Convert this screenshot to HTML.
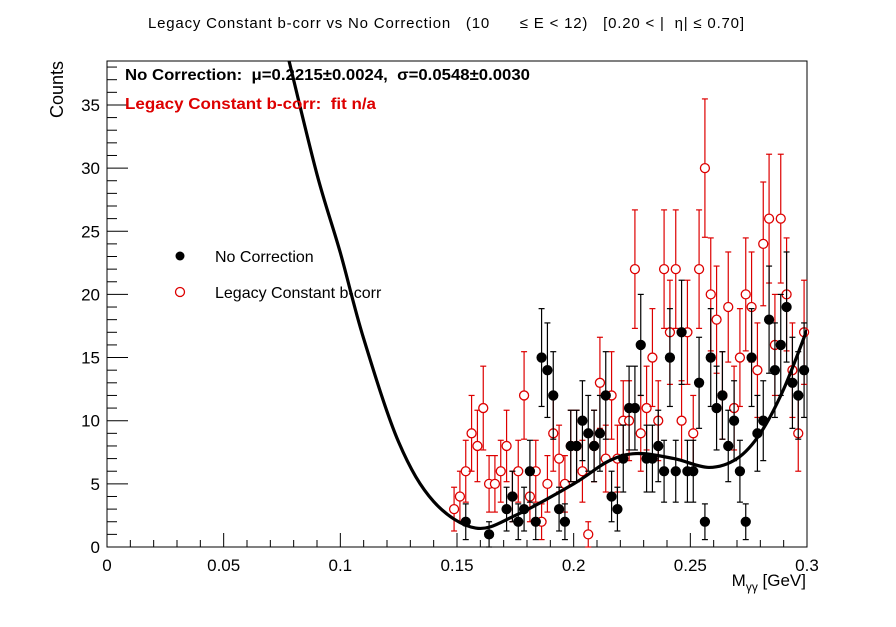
<!DOCTYPE html>
<html><head><meta charset="utf-8"><style>
body{margin:0;background:#fff;}
svg text{font-family:"Liberation Sans",sans-serif;white-space:pre;}
</style></head><body>
<svg id="c" width="896" height="622" xmlns="http://www.w3.org/2000/svg" xml:space="preserve">
<rect width="896" height="622" fill="#fff"/>
<text x="148" y="28" font-size="15" textLength="596" lengthAdjust="spacing">Legacy Constant b-corr vs No Correction   (10      ≤ E &lt; 12)   [0.20 &lt; |  η| ≤ 0.70]</text>
<rect x="107" y="61" width="700" height="486" fill="none" stroke="#000" stroke-width="1"/>
<g id="axes"></g>
<g id="marks"></g>
<text x="125" y="80" font-size="16" font-weight="bold" textLength="405" lengthAdjust="spacingAndGlyphs">No Correction:  μ=0.2215±0.0024,  σ=0.0548±0.0030</text>
<text x="125" y="109" font-size="16" font-weight="bold" fill="#d00" textLength="251" lengthAdjust="spacingAndGlyphs">Legacy Constant b-corr:  fit n/a</text>
<g>
<circle cx="180" cy="256" r="4.5" fill="#000"/>
<text x="215" y="262" font-size="16">No Correction</text>
<circle cx="180" cy="292" r="4.5" fill="#fff" stroke="#d00" stroke-width="1.3"/>
<text x="215" y="298" font-size="16">Legacy Constant b-corr</text>
</g>
<text x="0" y="0" font-size="18" text-anchor="end" transform="translate(63,61) rotate(-90)">Counts</text>
<text x="806" y="586" font-size="17" text-anchor="end">M<tspan font-size="12" dy="5">γγ</tspan><tspan dy="-5"> [GeV]</tspan></text>
</svg>
<script>
const binStart = 0.14875, binWidth = 0.0025;
const noCorr = [0,0,2,0,0,0,1,0,0,3,4,2,3,6,2,15,14,12,3,2,8,8,10,9,8,9,12,4,3,7,11,11,16,7,7,8,6,15,6,17,6,6,13,2,15,11,12,8,10,6,2,15,9,10,18,14,16,19,13,12,14];
const legacy = [3,4,6,9,8,11,5,5,6,8,4,6,12,4,6,2,5,9,7,5,8,8,6,1,8,13,7,12,7,10,10,22,9,11,15,10,22,17,22,10,17,9,22,30,20,18,12,19,11,15,20,19,14,24,26,16,26,20,14,9,17];
const fitX = [0.078,0.09,0.1,0.11,0.125,0.14,0.158,0.175,0.2,0.215,0.227,0.243,0.258,0.27,0.28,0.29,0.3];
const fitY = [38.5,29.5,23.3,16.5,8.3,3.6,1.5,2.5,5,6.8,7.4,7,6.3,7,9,12.5,17.2];
const xTicks = [0,0.05,0.1,0.15,0.2,0.25,0.3];
const xTickLabels = ["0","0.05","0.1","0.15","0.2","0.25","0.3"];
const yTicks = [0,5,10,15,20,25,30,35];

const X0=107,X1=807,Y0=547,Y1=61,XMAX=0.3,YMAX=38.48;
const sx=v=>X0+(v/XMAX)*(X1-X0);
const sy=v=>Y0-(v/YMAX)*(Y0-Y1);
const NS="http://www.w3.org/2000/svg";
function mk(t,a,p){const e=document.createElementNS(NS,t);for(const k in a)e.setAttribute(k,a[k]);p.appendChild(e);return e;}
const axes=document.getElementById('axes'), marks=document.getElementById('marks');
for(let k=0;k<=30;k++){const v=k*0.01;const x=sx(v);const maj=k%5===0;
 const t=mk('line',{x1:x,x2:x,y1:Y0,y2:Y0-(maj?14:7),stroke:'#000'},axes);
 
 }
xTicks.forEach((v,i)=>{const t=mk('text',{x:sx(v),y:Y0+24,'font-size':17,'text-anchor':'middle'},axes);t.textContent=xTickLabels[i];
 
 });
for(let k=0;k<=38;k++){const y=sy(k);const maj=k%5===0;
 const t=mk('line',{x1:X0,x2:X0+(maj?21:10),y1:y,y2:y,stroke:'#000'},axes);
 
 }
yTicks.forEach(v=>{const t=mk('text',{x:X0-7,y:sy(v)+6,'font-size':17,'text-anchor':'end'},axes);t.textContent=String(v);
 
 });
const P=fitX.map((x,i)=>[sx(x),sy(fitY[i])]);
let d='M'+P[0][0]+','+P[0][1];
for(let i=0;i<P.length-1;i++){const p0=P[Math.max(0,i-1)],p1=P[i],p2=P[i+1],p3=P[Math.min(P.length-1,i+2)];
 d+=` C${p1[0]+(p2[0]-p0[0])/6},${p1[1]+(p2[1]-p0[1])/6} ${p2[0]-(p3[0]-p1[0])/6},${p2[1]-(p3[1]-p1[1])/6} ${p2[0]},${p2[1]}`;}
const cp=document.createElementNS(NS,'clipPath');cp.id='clip';mk('rect',{x:X0,y:Y1,width:X1-X0,height:Y0-Y1},cp);axes.appendChild(cp);
function series(vals,color,filled,name){
 vals.forEach((n,i)=>{if(n<=0)return;const x=sx(binStart+i*binWidth),e=Math.sqrt(n);
  const g=mk('g',{},marks);
  
  
  const top=sy(n+e),bot=sy(Math.max(0,n-e));
  mk('line',{x1:x,x2:x,y1:top,y2:bot,stroke:color,'stroke-width':1.2},g);
  mk('line',{x1:x-3,x2:x+3,y1:top,y2:top,stroke:color,'stroke-width':1.2},g);
  mk('line',{x1:x-3,x2:x+3,y1:bot,y2:bot,stroke:color,'stroke-width':1.2},g);
  mk('circle',{cx:x,cy:sy(n),r:4.5,fill:filled?color:'#fff',stroke:color,'stroke-width':1.3},g);
 });}
series(legacy,'#d00',false,'legacy');
series(noCorr,'#000',true,'no-correction');
const f=mk('path',{d:d,fill:'none',stroke:'#000','stroke-width':3.2,'clip-path':'url(#clip)'},marks);


</script>
</body></html>
